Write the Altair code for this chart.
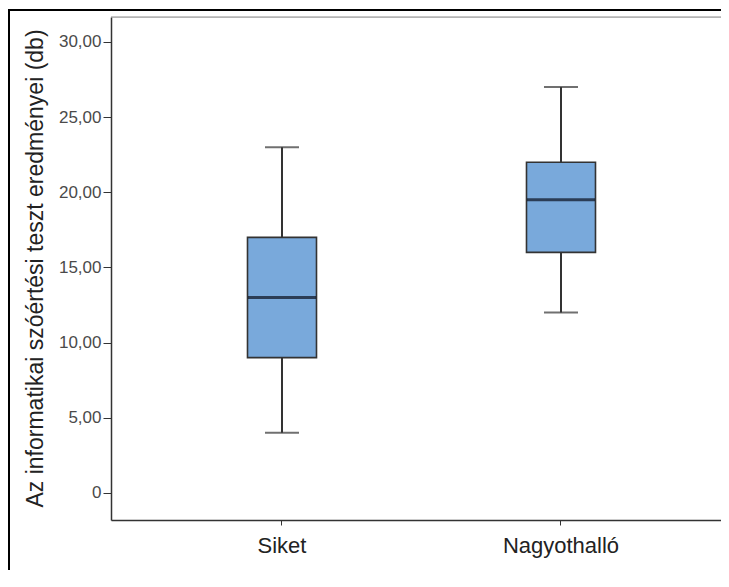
import altair as alt
import pandas as pd

groups = ["Siket", "Nagyothalló"]
mins = [4, 12]
q1s = [9, 16]
medians = [13, 19.5]
q3s = [17, 22]
maxs = [23, 27]
y_ticks = [0, 5, 10, 15, 20, 25, 30]

df = pd.DataFrame({"group": groups, "min": mins, "q1": q1s, "median": medians,
                   "q3": q3s, "max": maxs})

FONT = "Liberation Sans"
x_enc = alt.X("group:N", sort=groups, title=None,
              scale=alt.Scale(paddingInner=0.5, paddingOuter=0.3432, align=0.5287),
              axis=alt.Axis(labelAngle=0, labelFontSize=22, labelColor="#222222",
                            labelFont=FONT, tickSize=5, tickColor="#333333",
                            labelPadding=10, domainColor="#333333", domainWidth=1.5,
                            ticks=True))
y_scale = alt.Scale(domain=[-1.8, 31.66], nice=False, zero=False)
y_axis = alt.Axis(values=y_ticks, grid=False, tickSize=8, tickColor="#333333",
                  labelFontSize=17, labelColor="#4a4a4a", labelFont=FONT, labelPadding=2,
                  labelExpr="datum.value == 0 ? '0' : replace(format(datum.value, '.2f'), '.', ',')",
                  domainColor="#333333", domainWidth=1.5,
                  title="Az informatikai szóértési teszt eredményei (db)",
                  titleFont=FONT, titleFontSize=23, titleFontWeight="normal",
                  titleColor="#222222", titleAngle=270, titleX=-76, titleY=251,
                  titleAlign="center", titleBaseline="middle")

base = alt.Chart(df)

whisker = base.mark_rule(color="#333333", strokeWidth=2).encode(
    x=x_enc, y=alt.Y("min:Q", scale=y_scale, axis=y_axis), y2="max:Q")
cap_lo = base.mark_tick(size=34, thickness=2, color="#333333").encode(
    x=x_enc, y=alt.Y("min:Q", scale=y_scale))
cap_hi = base.mark_tick(size=34, thickness=2, color="#333333").encode(
    x=x_enc, y=alt.Y("max:Q", scale=y_scale))
box = base.mark_bar(size=69, fill="#79a9db", stroke="#333333", strokeWidth=1.6).encode(
    x=x_enc, y=alt.Y("q1:Q", scale=y_scale), y2="q3:Q")
med = base.mark_tick(size=68, thickness=3, color="#0a0f1e").encode(
    x=x_enc, y=alt.Y("median:Q", scale=y_scale))

top_border = alt.Chart(alt.Data(values=[{"a": 1}])).mark_rule(
    color="#8c8c8c", strokeWidth=1, clip=False).encode(
    x=alt.value(0), x2=alt.value(640), y=alt.value(0))

frame = alt.Chart(alt.Data(values=[{"a": 1}])).mark_rect(
    filled=False, stroke="#000000", strokeWidth=2, clip=False).encode(
    x=alt.value(-102), x2=alt.value(640), y=alt.value(-7), y2=alt.value(620))

chart = alt.layer(top_border, whisker, box, med, cap_lo, cap_hi, frame).properties(
    width=610, height=503,
    autosize=alt.AutoSizeParams(type="none"),
    padding={"left": 103, "top": 9, "right": 0, "bottom": 50},
).configure_view(fill="#f0f0f0", strokeWidth=0).configure(
    background="white")

chart.save("out.html", embed_options={"renderer": "svg", "actions": False})
